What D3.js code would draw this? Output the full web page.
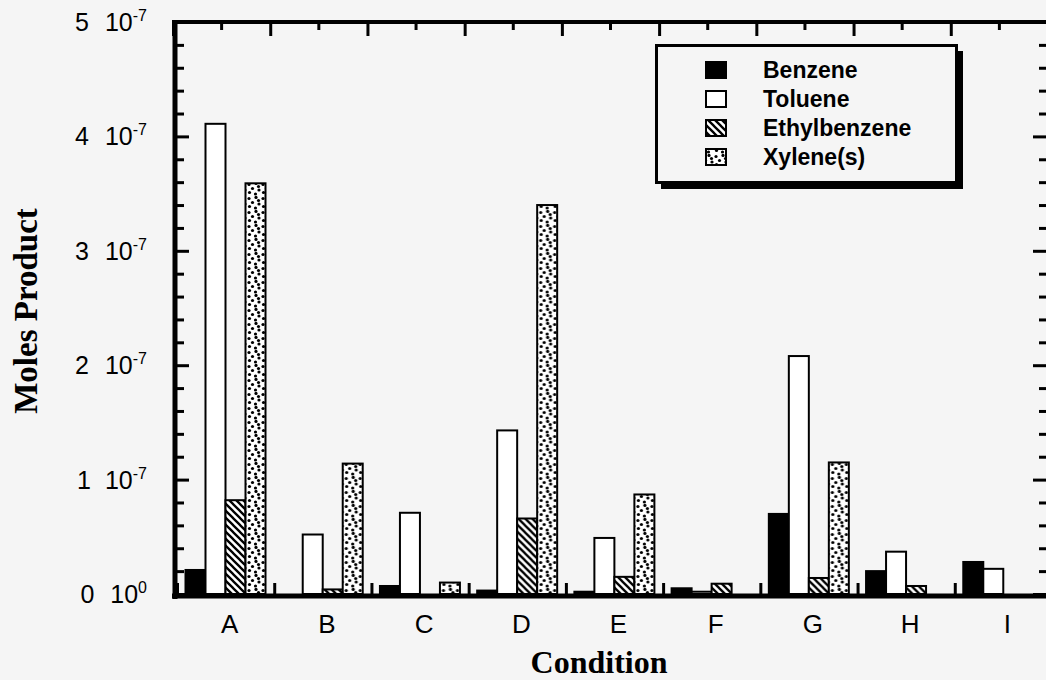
<!DOCTYPE html>
<html>
<head>
<meta charset="utf-8">
<script src="https://cdn.jsdelivr.net/npm/d3@7/dist/d3.min.js"></script>
<style>
  html, body { margin: 0; padding: 0; background: #f5f5f5; }
  svg { display: block; }
</style>
</head>
<body>
<svg id="chart" width="1046" height="680"></svg>
<script>
// ---- data (values in units of 1e-7 moles) ----
const categories = ["A", "B", "C", "D", "E", "F", "G", "H", "I"];
const seriesNames = ["Benzene", "Toluene", "Ethylbenzene", "Xylene(s)"];
const benzene      = [0.21, 0.00, 0.07, 0.03, 0.02, 0.05, 0.70, 0.20, 0.28];
const toluene      = [4.11, 0.52, 0.71, 1.43, 0.49, 0.02, 2.08, 0.37, 0.22];
const ethylbenzene = [0.82, 0.04, 0.00, 0.66, 0.15, 0.09, 0.14, 0.07, 0.00];
const xylenes      = [3.59, 1.14, 0.10, 3.40, 0.87, 0.00, 1.15, 0.00, 0.00];
const yTickValues   = [0, 1, 2, 3, 4, 5];
const yTickMantissa = ["0", "1", "2", "3", "4", "5"];
const yTickExponent = ["0", "-7", "-7", "-7", "-7", "-7"];
const xTitle = "Condition";
const yTitle = "Moles Product";

const seriesValues = [benzene, toluene, ethylbenzene, xylenes];
const fills = ["#000", "#fff", "url(#hatch)", "url(#dots)"];

const svg = d3.select("#chart");
const defs = svg.append("defs");

// hatch pattern for Ethylbenzene
const hp = defs.append("pattern").attr("id", "hatch")
  .attr("patternUnits", "userSpaceOnUse").attr("width", 7).attr("height", 7);
hp.append("rect").attr("width", 7).attr("height", 7).attr("fill", "#fff");
hp.append("path").attr("d", "M-1,-1 L8,8 M-2,5 L2,9 M5,-2 L9,2")
  .attr("stroke", "#000").attr("stroke-width", 2.3);

// stipple pattern for Xylene(s)
const dp = defs.append("pattern").attr("id", "dots")
  .attr("patternUnits", "userSpaceOnUse").attr("width", 14).attr("height", 14);
dp.append("rect").attr("width", 14).attr("height", 14).attr("fill", "#fff");
[[2, 2.5], [9, 1.5], [5.5, 6.5], [12, 8], [2.5, 10.5], [8.5, 12], [11.5, 4.5]].forEach(([cx, cy]) => {
  dp.append("circle").attr("cx", cx).attr("cy", cy).attr("r", 1.6).attr("fill", "#000");
});

// ---- scales ----
const x0 = d3.scaleBand().domain(categories).range([177, 1052]).padding(0);
const x1 = d3.scaleBand().domain(seriesNames).range([8.5, 88.5]).padding(0);
const y = d3.scaleLinear().domain([0, 5]).range([594, 22]);

// ---- bars ----
const groups = svg.append("g").selectAll("g").data(categories).join("g")
  .attr("transform", d => `translate(${x0(d)},0)`);
groups.selectAll("rect")
  .data((c, i) => seriesNames.map((s, k) => ({ s, k, v: seriesValues[k][i] })).filter(d => d.v > 0))
  .join("rect")
  .attr("x", d => x1(d.s))
  .attr("width", x1.bandwidth())
  .attr("y", d => y(d.v))
  .attr("height", d => y(0) - y(d.v))
  .attr("fill", d => fills[d.k])
  .attr("stroke", "#000")
  .attr("stroke-width", 2);

// ---- frame ticks via axes ----
const minorVals = d3.range(0, 5.001, 0.2).filter(v => Math.abs(v - Math.round(v)) > 1e-6);
function tickStyle(g) {
  g.select(".domain").remove();
  g.selectAll("line").attr("stroke", "#000").attr("stroke-width", 3);
  g.selectAll("text").remove();
}
svg.append("g").attr("transform", "translate(177,0)")
  .call(d3.axisLeft(y).tickValues(yTickValues).tickSize(-12)).call(tickStyle);
svg.append("g").attr("transform", "translate(177,0)")
  .call(d3.axisLeft(y).tickValues(minorVals).tickSize(-7)).call(tickStyle);
svg.append("g").attr("transform", "translate(1046,0)")
  .call(d3.axisRight(y).tickValues(yTickValues).tickSize(-13)).call(tickStyle);
svg.append("g").attr("transform", "translate(1046,0)")
  .call(d3.axisRight(y).tickValues(minorVals).tickSize(-7)).call(tickStyle);

// band edge ticks (bottom, top) and centre ticks (top)
const edgeScale = d3.scalePoint().domain(d3.range(categories.length + 1)).range([177, 1052]);
svg.append("g").attr("transform", "translate(0,594)")
  .call(d3.axisBottom(edgeScale).tickSize(-11)).call(tickStyle);
svg.append("g").attr("transform", "translate(-4,24)")
  .call(d3.axisTop(edgeScale).tickSize(-12)).call(tickStyle);
svg.append("g").attr("transform", "translate(-4,24)")
  .call(d3.axisTop(x0).tickSize(-6)).call(tickStyle);

// frame lines
svg.append("line").attr("x1", 175).attr("x2", 175).attr("y1", 20).attr("y2", 599)
  .attr("stroke", "#000").attr("stroke-width", 5);
svg.append("line").attr("x1", 172).attr("x2", 1046).attr("y1", 22).attr("y2", 22)
  .attr("stroke", "#000").attr("stroke-width", 4);
svg.append("line").attr("x1", 172).attr("x2", 1046).attr("y1", 596).attr("y2", 596)
  .attr("stroke", "#000").attr("stroke-width", 5);
svg.append("line").attr("x1", 1048).attr("x2", 1048).attr("y1", 20).attr("y2", 599)
  .attr("stroke", "#000").attr("stroke-width", 4);

// ---- y tick labels ----
const yl = svg.append("g").attr("font-family", "Liberation Sans, Arial, sans-serif").attr("fill", "#000");
yTickValues.forEach((v, i) => {
  const t = yl.append("text").attr("x", 147).attr("y", y(v) + 9)
    .attr("text-anchor", "end").attr("font-size", 25);
  t.append("tspan").text(yTickMantissa[i]);
  t.append("tspan").attr("dx", 16).text("10");
  t.append("tspan").attr("font-size", 16).attr("dy", -10).text(yTickExponent[i]);
});

// ---- x labels ----
svg.append("g").selectAll("text").data(categories).join("text")
  .attr("x", d => x0(d) + x0.bandwidth() / 2 + 4)
  .attr("y", 633)
  .attr("text-anchor", "middle")
  .attr("font-family", "Liberation Sans, Arial, sans-serif")
  .attr("font-size", 26)
  .text(d => d);

// ---- axis titles ----
svg.append("text").attr("x", 599).attr("y", 673)
  .attr("text-anchor", "middle")
  .attr("font-family", "Liberation Serif, Times New Roman, serif")
  .attr("font-weight", "bold").attr("font-size", 32)
  .text(xTitle);
svg.append("text")
  .attr("transform", "translate(37,311) rotate(-90)")
  .attr("text-anchor", "middle")
  .attr("font-family", "Liberation Serif, Times New Roman, serif")
  .attr("font-weight", "bold").attr("font-size", 33)
  .text(yTitle);

// ---- legend ----
const lg = svg.append("g");
lg.append("rect").attr("x", 661).attr("y", 51).attr("width", 302).attr("height", 138).attr("fill", "#000");
lg.append("rect").attr("x", 656.5).attr("y", 45.5).attr("width", 300).attr("height", 137)
  .attr("fill", "#f5f5f5").attr("stroke", "#000").attr("stroke-width", 3);
const ly = d3.scalePoint().domain(seriesNames).range([70, 157]);
seriesNames.forEach((s, k) => {
  lg.append("rect").attr("x", 706).attr("y", ly(s) - 8).attr("width", 20).attr("height", 16)
    .attr("fill", fills[k]).attr("stroke", "#000").attr("stroke-width", 2);
  lg.append("text").attr("x", 763).attr("y", ly(s) + 8)
    .attr("font-family", "Liberation Sans, Arial, sans-serif")
    .attr("font-weight", "bold").attr("font-size", 23)
    .text(s);
});
</script>
</body>
</html>
